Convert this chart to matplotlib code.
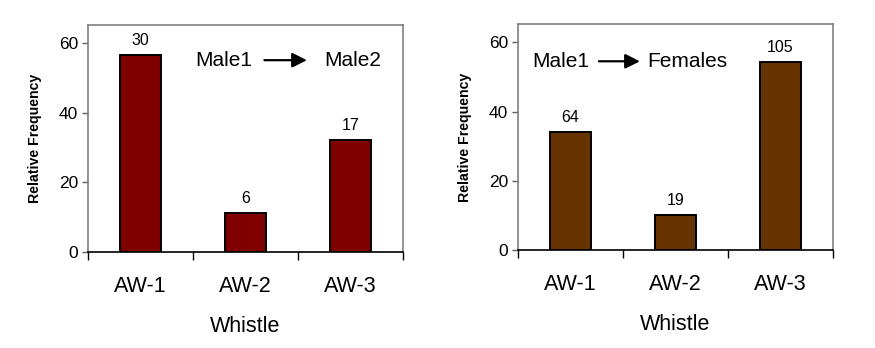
import matplotlib.pyplot as plt
import numpy as np

plt.rcParams['font.family'] = ['Liberation Sans', 'DejaVu Sans']

whistles = ['AW-1', 'AW-2', 'AW-3']
# number of whistles (printed above bars) and relative frequency in %
male2_counts = [30, 6, 17]
male2_rel = [56.7, 11.3, 32.1]
female_counts = [64, 19, 105]
female_rel = [34.0, 10.0, 54.4]

panels = [
    (male2_counts, male2_rel, '#800000', 'Male2'),
    (female_counts, female_rel, '#663300', 'Females'),
]

fig = plt.figure(figsize=(8.75, 3.48), dpi=100)
rects = [
    [88 / 875, 1 - 252 / 348, 315 / 875, 227 / 348],
    [518 / 875, 1 - 250 / 348, 315 / 875, 226 / 348],
]
# text / arrow placement in axes fraction
label_pos = [
    (0.43, 0.56, 0.695, 0.84, 0.845),
    (0.137, 0.257, 0.387, 0.537, 0.835),
]

for (counts, rel, color, target), rect, (tx0, ax0, ax1, tx1, ty) in zip(panels, rects, label_pos):
    ax = fig.add_axes(rect)
    x = np.arange(len(whistles))
    bars = ax.bar(x, rel, width=0.39, color=color, edgecolor='black', linewidth=1.4, zorder=3)
    for b, c in zip(bars, counts):
        ax.annotate(str(c), (b.get_x() + b.get_width() / 2, b.get_height()),
                    xytext=(0, 5), textcoords='offset points',
                    ha='center', va='bottom', fontsize=11.5)

    ax.set_xlim(-0.5, 2.5)
    ax.set_ylim(0, 65.3)
    ax.set_yticks([0, 20, 40, 60])
    ax.set_xticks(x)
    ax.set_xticklabels(whistles, fontsize=15.5)
    ax.set_xticks([-0.5, 0.5, 1.5, 2.5], minor=True)
    ax.tick_params(axis='x', which='major', length=0, pad=17)
    ax.tick_params(axis='x', which='minor', length=6, width=1, direction='out')
    ax.tick_params(axis='y', length=4, width=1, colors='#606060', labelcolor='black',
                   labelsize=12.5, pad=3)
    for s in ['top', 'right', 'left']:
        ax.spines[s].set_color('#808080')
        ax.spines[s].set_linewidth(1.2)
    ax.spines['bottom'].set_color('black')
    ax.spines['bottom'].set_linewidth(1.2)

    ax.set_xlabel('Whistle', fontsize=15.5, labelpad=14)
    ax.set_ylabel('Relative Frequency', fontsize=10.2, fontweight='bold', labelpad=12)

    ax.text(tx0, ty, 'Male1', transform=ax.transAxes, ha='center', va='center', fontsize=15)
    ax.text(tx1, ty, target, transform=ax.transAxes, ha='center', va='center', fontsize=15)
    ax.annotate('', xy=(ax1, ty), xytext=(ax0, ty), xycoords='axes fraction',
                arrowprops=dict(arrowstyle='-|>', color='black', lw=1.6,
                                mutation_scale=22, shrinkA=0, shrinkB=0))

fig.savefig('out.png', dpi=100)
